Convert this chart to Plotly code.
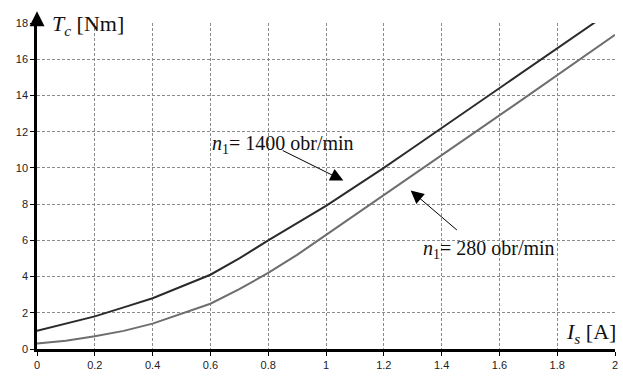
import plotly.graph_objects as go

current_A = [0.0, 0.1, 0.2, 0.3, 0.4, 0.5, 0.6, 0.7, 0.8, 0.9, 1.0,
             1.1, 1.2, 1.3, 1.4, 1.5, 1.6, 1.7, 1.8, 1.9, 2.0]
torque_1400 = [1.0, 1.4, 1.8, 2.3, 2.8, 3.45, 4.1, 5.0, 6.0, 6.95, 7.9,
               8.95, 10.0, 11.1, 12.2, 13.3, 14.4, 15.5, 16.6, 17.7, 18.8]
torque_280 = [0.3, 0.45, 0.7, 1.0, 1.4, 1.95, 2.5, 3.3, 4.2, 5.2, 6.3,
              7.35, 8.45, 9.55, 10.7, 11.8, 12.9, 14.0, 15.1, 16.2, 17.35]

x_ticks = [0, 0.2, 0.4, 0.6, 0.8, 1, 1.2, 1.4, 1.6, 1.8, 2]
x_tick_labels = ["0", "0.2", "0.4", "0.6", "0.8", "1", "1.2", "1.4", "1.6", "1.8", "2"]
y_ticks = [0, 2, 4, 6, 8, 10, 12, 14, 16, 18]

fig = go.Figure()
fig.add_trace(go.Scatter(x=current_A, y=torque_1400, mode="lines",
                         line=dict(color="#2b2b2b", width=2), showlegend=False))
fig.add_trace(go.Scatter(x=current_A, y=torque_280, mode="lines",
                         line=dict(color="#6e6e6e", width=2), showlegend=False))

serif = "Liberation Serif, Times New Roman, serif"
tick_font = dict(family="Liberation Sans, Arial", size=11, color="#222")

fig.update_layout(
    width=623, height=376,
    margin=dict(l=37, r=5, t=23, b=23),
    paper_bgcolor="white", plot_bgcolor="white",
    xaxis=dict(range=[0, 2], tickvals=x_ticks, ticktext=x_tick_labels,
               showgrid=True, gridcolor="#8a8a8a", griddash="3px,2px", gridwidth=1,
               showline=True, linecolor="black", linewidth=2.5,
               ticks="outside", ticklen=4, tickcolor="black",
               tickfont=tick_font, zeroline=False, fixedrange=True),
    yaxis=dict(range=[0, 18], tickvals=y_ticks,
               showgrid=True, gridcolor="#8a8a8a", griddash="3px,2px", gridwidth=1,
               showline=True, linecolor="black", linewidth=2.5,
               ticks="outside", ticklen=4, tickcolor="black",
               tickfont=tick_font, zeroline=False, fixedrange=True),
)

# top arrow of the y axis
fig.add_annotation(x=0, y=1.036, xref="x", yref="paper", ax=0, ay=14,
                   axref="pixel", ayref="pixel", text="", showarrow=True,
                   arrowhead=2, arrowsize=1.2, arrowwidth=2.5, arrowcolor="black")

# axis titles
fig.add_annotation(x=0.045, y=17.9, xref="x", yref="y", xanchor="left", yanchor="middle",
                   text="<i>T</i><sub><i>c</i></sub> [Nm]", showarrow=False,
                   font=dict(family=serif, size=22, color="#111"))
fig.add_annotation(x=2.0, y=0.9, xref="x", yref="y", xanchor="right", yanchor="middle",
                   xshift=3, text="<i>I</i><sub><i>s</i></sub> [A]", showarrow=False,
                   font=dict(family=serif, size=22, color="#111"))

# curve labels with arrows
fig.add_annotation(x=0.6, y=11.3, xref="x", yref="y", xanchor="left", yanchor="middle",
                   text="<i>n</i><sub>1</sub>= 1400 obr/min", showarrow=False,
                   font=dict(family=serif, size=20, color="#111"))
fig.add_annotation(x=1.06, y=9.3, xref="x", yref="y", ax=0.845, ay=11.0,
                   axref="x", ayref="y", text="", showarrow=True,
                   arrowhead=2, arrowsize=2.6, arrowwidth=1, arrowcolor="black")

fig.add_annotation(x=1.33, y=5.5, xref="x", yref="y", xanchor="left", yanchor="middle",
                   text="<i>n</i><sub>1</sub>= 280 obr/min", showarrow=False,
                   font=dict(family=serif, size=20, color="#111"))
fig.add_annotation(x=1.293, y=8.75, xref="x", yref="y", ax=1.458, ay=6.5,
                   axref="x", ayref="y", text="", showarrow=True,
                   arrowhead=2, arrowsize=2.6, arrowwidth=1, arrowcolor="black")

fig.write_html("out.html", config={"displayModeBar": False},
               post_script="document.body.style.margin='0';")
